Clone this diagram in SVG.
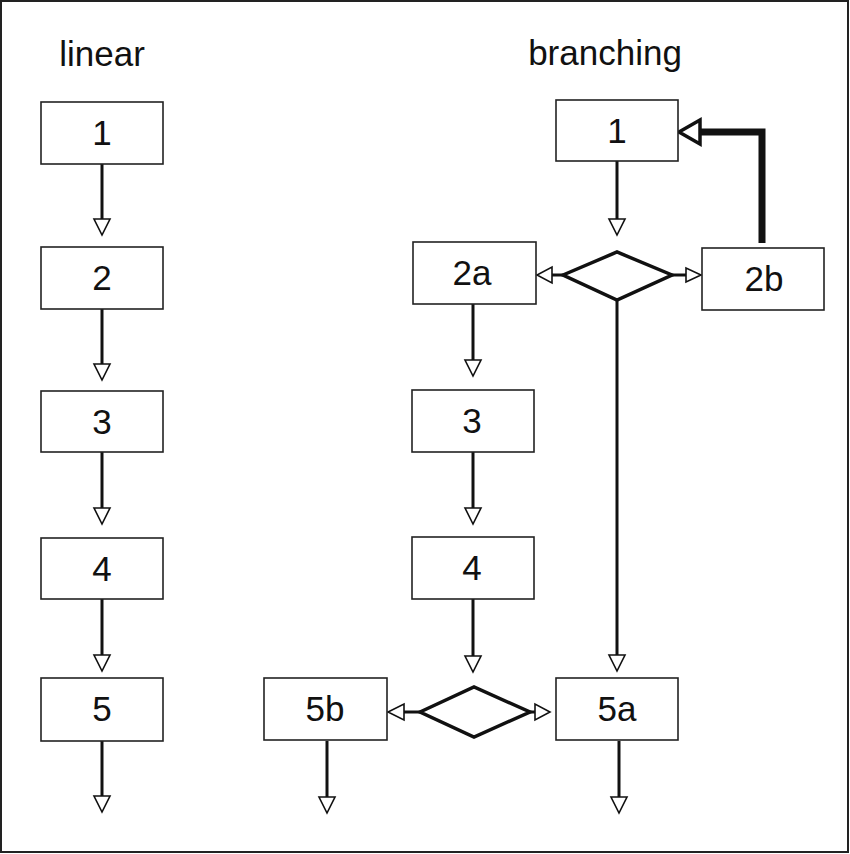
<svg xmlns="http://www.w3.org/2000/svg" width="850" height="854" viewBox="0 0 850 854">
<style>
.box{fill:#fff;stroke:#222;stroke-width:1.6}
.lbl{font-family:"Liberation Sans",Arial,sans-serif;font-size:35px;fill:#111;text-anchor:middle}
.ttl{font-family:"Liberation Sans",Arial,sans-serif;font-size:35px;fill:#111;text-anchor:middle}
.ln{fill:none;stroke:#111;stroke-width:3}
.dia{fill:#fff;stroke:#111;stroke-width:3.5;stroke-linejoin:miter}
.ah{fill:#fff;stroke:#111;stroke-width:1.6}
</style>
<rect x="1" y="1" width="847" height="851" fill="#fff" stroke="#222" stroke-width="2"/>
<text class="ttl" x="102" y="66">linear</text>
<text class="ttl" x="605" y="65">branching</text>

<g id="connectors">
  <line class="ln" x1="102" y1="164" x2="102" y2="219"/>
  <polygon class="ah" points="94,219 110,219 102,235"/>
  <line class="ln" x1="102" y1="309" x2="102" y2="364"/>
  <polygon class="ah" points="94,364 110,364 102,380"/>
  <line class="ln" x1="102" y1="452" x2="102" y2="508"/>
  <polygon class="ah" points="94,508 110,508 102,524"/>
  <line class="ln" x1="102" y1="599" x2="102" y2="655"/>
  <polygon class="ah" points="94,655 110,655 102,671"/>
  <line class="ln" x1="102" y1="741" x2="102" y2="796"/>
  <polygon class="ah" points="94,796 110,796 102,812"/>
  <line class="ln" x1="617" y1="161" x2="617" y2="219"/>
  <polygon class="ah" points="609,219 625,219 617,235"/>
  <line class="ln" x1="563" y1="275" x2="552" y2="275"/>
  <polygon class="ah" points="552,267 552,283 537,275"/>
  <line class="ln" x1="672" y1="275" x2="686" y2="275"/>
  <polygon class="ah" points="686,268 686,282 701,275"/>
  <polyline fill="none" stroke="#111" stroke-width="7" points="762,243 762,132 700,132"/>
  <polygon fill="#fff" stroke="#111" stroke-width="3.5" points="700,120 700,144 679,132"/>
  <line class="ln" x1="617" y1="300" x2="617" y2="655"/>
  <polygon class="ah" points="609,655 625,655 617,671"/>
  <line class="ln" x1="473" y1="304" x2="473" y2="360"/>
  <polygon class="ah" points="465,360 481,360 473,376"/>
  <line class="ln" x1="473" y1="452" x2="473" y2="508"/>
  <polygon class="ah" points="465,508 481,508 473,524"/>
  <line class="ln" x1="473" y1="599" x2="473" y2="656"/>
  <polygon class="ah" points="465,656 481,656 473,672"/>
  <line class="ln" x1="420" y1="712" x2="404" y2="712"/>
  <polygon class="ah" points="404,704 404,720 388,712"/>
  <line class="ln" x1="530" y1="712" x2="535" y2="712"/>
  <polygon class="ah" points="535,704 535,720 550,712"/>
  <line class="ln" x1="327" y1="741" x2="327" y2="797"/>
  <polygon class="ah" points="319,797 335,797 327,813"/>
  <line class="ln" x1="619" y1="741" x2="619" y2="797"/>
  <polygon class="ah" points="611,797 627,797 619,813"/>
</g>

<g id="L1"><rect class="box" x="41" y="102" width="122" height="62"/><text class="lbl" x="102" y="145">1</text></g>
<g id="L2"><rect class="box" x="41" y="247" width="122" height="62"/><text class="lbl" x="102" y="290">2</text></g>
<g id="L3"><rect class="box" x="41" y="391" width="122" height="61"/><text class="lbl" x="102" y="434">3</text></g>
<g id="L4"><rect class="box" x="41" y="538" width="122" height="61"/><text class="lbl" x="102" y="581">4</text></g>
<g id="L5"><rect class="box" x="41" y="678" width="122" height="63"/><text class="lbl" x="102" y="721">5</text></g>

<g id="B1"><rect class="box" x="556" y="100" width="122" height="61"/><text class="lbl" x="617" y="143">1</text></g>
<g id="D1"><polygon class="dia" points="563,275 617,252 672,275 617,300"/></g>
<g id="B2a"><rect class="box" x="413" y="242" width="123" height="62"/><text class="lbl" x="472" y="285">2a</text></g>
<g id="B2b"><rect class="box" x="702" y="248" width="122" height="62"/><text class="lbl" x="764" y="291">2b</text></g>
<g id="B3"><rect class="box" x="412" y="390" width="122" height="62"/><text class="lbl" x="472" y="433">3</text></g>
<g id="B4"><rect class="box" x="412" y="537" width="122" height="62"/><text class="lbl" x="472" y="580">4</text></g>
<g id="D2"><polygon class="dia" points="420,712 474,687 530,712 474,737"/></g>
<g id="B5b"><rect class="box" x="264" y="678" width="123" height="62"/><text class="lbl" x="325" y="721">5b</text></g>
<g id="B5a"><rect class="box" x="556" y="678" width="122" height="62"/><text class="lbl" x="617" y="721">5a</text></g>
</svg>
